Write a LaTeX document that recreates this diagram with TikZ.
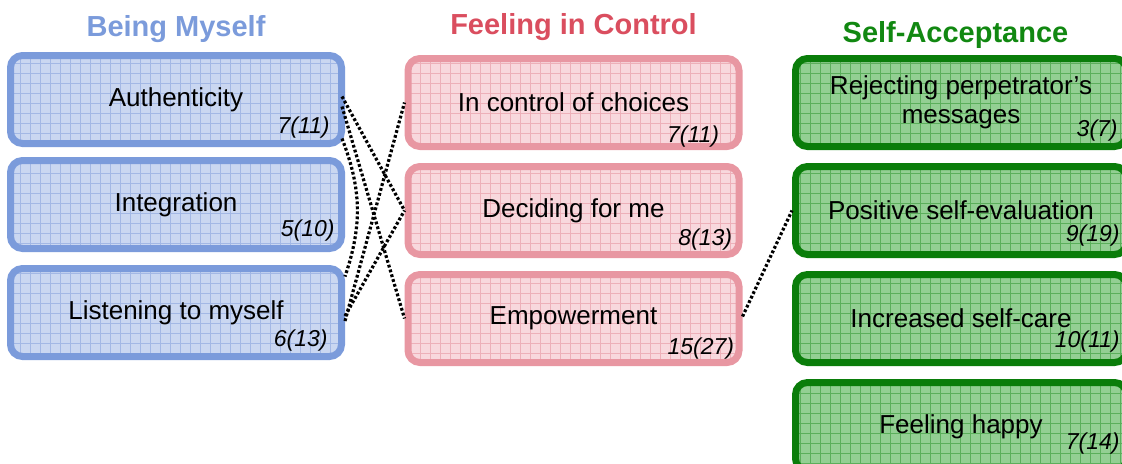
\documentclass[tikz,border=0pt]{standalone}
\usepackage{fontspec}
\setmainfont{Liberation Sans}
\usetikzlibrary{positioning,patterns.meta}
\definecolor{myselfline}{HTML}{7B9BDB}
\definecolor{myselffill}{HTML}{CAD7F1}
\definecolor{myselfgrid}{HTML}{A3B8E5}
\definecolor{controlline}{HTML}{E897A2}
\definecolor{controlfill}{HTML}{F8D8DD}
\definecolor{controlgrid}{HTML}{EDB0B9}
\definecolor{controltitle}{HTML}{DA4E5F}
\definecolor{acceptline}{HTML}{0A7D0A}
\definecolor{acceptfill}{HTML}{93CF93}
\definecolor{acceptgrid}{HTML}{5BAF5B}
\definecolor{accepttitle}{HTML}{118811}
\tikzset{
	%Define style for theme boxes
	theme/.style={
		rectangle,
		rounded corners=6pt,
		line width=3.5pt,
		minimum width=165.5pt,
		minimum height=44pt,
		align=center,
		font=\fontsize{13}{14.5}\selectfont},
	myself/.style={theme, draw=myselfline, preaction={fill=myselffill},
		pattern={Hatch[angle=0,distance=5pt,line width=0.5pt]}, pattern color=myselfgrid},
	control/.style={theme, draw=controlline, preaction={fill=controlfill},
		pattern={Hatch[angle=0,distance=5pt,line width=0.5pt]}, pattern color=controlgrid},
	accept/.style={theme, draw=acceptline, preaction={fill=acceptfill},
		pattern={Hatch[angle=0,distance=5pt,line width=0.5pt]}, pattern color=acceptgrid},
	% Define style for headings and counts
	heading/.style={inner sep=0pt, font=\fontsize{14.5}{17}\selectfont\bfseries},
	cnt/.style={inner sep=0pt, font=\fontsize{11.5}{13}\selectfont\itshape},
	% Define dotted link style
	link/.style={line width=1.6pt, dash pattern=on 1.4pt off 1.1pt}
}
\begin{document}
\begin{tikzpicture}[node distance=6.5pt]
	\useasboundingbox (0,0) rectangle (561pt,-231.5pt);

	\node[myself, anchor=north] (auth) at (88pt,-27.5pt) {Authenticity};
	\node[myself, below = of auth] (integ) {Integration};
	\node[myself, below = of integ] (listen) {Listening to myself};
	\node[heading, text=myselfline, above = 6pt of auth] (myselftitle) {Being Myself};

	\node[control, anchor=north] (choices) at (286.75pt,-27.5pt) {In control of choices};
	\node[control, below = of choices] (decide) {Deciding for me};
	\node[control, below = of decide] (empower) {Empowerment};
	\node[heading, text=controltitle, above = 7pt of choices] (controltitle) {Feeling in Control};

	\node[accept, anchor=north] (reject) at (480.5pt,-27.5pt) {Rejecting perpetrator's\\messages};
	\node[accept, below = of reject] (poseval) {Positive self-evaluation};
	\node[accept, below = of poseval] (selfcare) {Increased self-care};
	\node[accept, below = of selfcare] (happy) {Feeling happy};
	\node[heading, text=accepttitle, above = 3pt of reject, xshift=-2.75pt] (accepttitle) {Self-Acceptance};

	\node[cnt, above left = 2.6pt and 6pt of auth.south east] (auth-n) {7(11)};
	\node[cnt, above left = 5pt and 5pt of integ.south east] (integ-n) {5(10)};
	\node[cnt, above left = 4pt and 8.5pt of listen.south east] (listen-n) {6(13)};
	\node[cnt, above left = 1pt and 11.5pt of choices.south east] (choices-n) {7(11)};
	\node[cnt, above left = 3.5pt and 5pt of decide.south east] (decide-n) {8(13)};
	\node[cnt, above left = 3pt and 4pt of empower.south east] (empower-n) {15(27)};
	\node[cnt, above left = 4pt and 6pt of reject.south east] (reject-n) {3(7)};
	\node[cnt, above left = 5.5pt and 5pt of poseval.south east] (poseval-n) {9(19)};
	\node[cnt, above left = 6.5pt and 5pt of selfcare.south east] (selfcare-n) {10(11)};
	\node[cnt, above left = 9.5pt and 5pt of happy.south east] (happy-n) {7(14)};

	\path
	([yshift=1.5pt]auth.east) edge[link] (decide.west)
	([yshift=-3.5pt]auth.east) edge[link] (empower.west)
	([yshift=-19.5pt]auth.east) edge[link, bend left=20] ([yshift=18pt]listen.east)
	([yshift=-4.25pt]listen.east) edge[link] (choices.west)
	([yshift=-1.75pt]listen.east) edge[link] (decide.west)
	([yshift=1pt]empower.east) edge[link] (poseval.west)
	;
\end{tikzpicture}
\end{document}
